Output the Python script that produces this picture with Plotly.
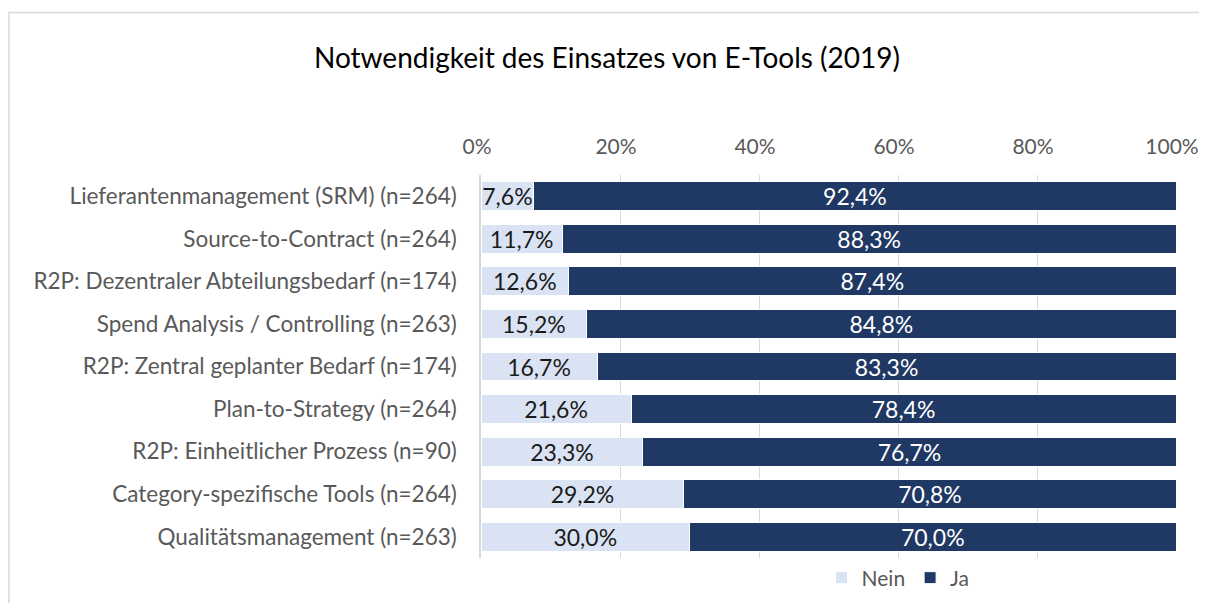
import plotly.graph_objects as go

categories = [
    "Lieferantenmanagement (SRM) (n=264)",
    "Source-to-Contract (n=264)",
    "R2P: Dezentraler Abteilungsbedarf (n=174)",
    "Spend Analysis / Controlling (n=263)",
    "R2P: Zentral geplanter Bedarf (n=174)",
    "Plan-to-Strategy (n=264)",
    "R2P: Einheitlicher Prozess (n=90)",
    "Category-spezifische Tools (n=264)",
    "Qualitätsmanagement (n=263)",
]
nein = [7.6, 11.7, 12.6, 15.2, 16.7, 21.6, 23.3, 29.2, 30.0]
ja = [92.4, 88.3, 87.4, 84.8, 83.3, 78.4, 76.7, 70.8, 70.0]
tick_vals = [0, 20, 40, 60, 80, 100]
tick_text = ["0%", "20%", "40%", "60%", "80%", "100%"]

FONT = "Lato, Calibri, Liberation Sans, sans-serif"

def fmt(v):
    return f"{v:.1f}".replace(".", ",") + "%"

W, H = 1191, 595
L, R, T, B = 473, 23, 167, 45
PW = W - L - R
PH = H - T - B

fig = go.Figure()
fig.add_trace(go.Bar(
    y=categories, x=nein, name="Nein", orientation="h",
    marker=dict(color="#DAE3F3", line=dict(color="white", width=1)),
    text=[fmt(v) for v in nein], textposition="inside", insidetextanchor="middle",
    constraintext="none", textangle=0,
    textfont=dict(color="#1a1a1a", size=23, family=FONT),
    hoverinfo="skip",
))
fig.add_trace(go.Bar(
    y=categories, x=ja, name="Ja", orientation="h",
    marker=dict(color="#203864", line=dict(color="white", width=1)),
    text=[fmt(v) for v in ja], textposition="inside", insidetextanchor="middle",
    constraintext="none", textangle=0,
    textfont=dict(color="white", size=23, family=FONT),
    hoverinfo="skip",
))

fig.update_layout(
    width=W, height=H,
    barmode="stack", bargap=0.32,
    paper_bgcolor="white", plot_bgcolor="white",
    margin=dict(l=L, r=R, t=T, b=B, autoexpand=False),
    font=dict(family=FONT, color="#595959", size=22),
    title=dict(text="Notwendigkeit des Einsatzes von E-Tools (2019)",
               x=599 / W, xref="container", xanchor="center", y=1 - 50 / H, yanchor="middle",
               font=dict(size=28, color="#000000", family=FONT)),
    showlegend=True,
    legend=dict(orientation="h", x=0.49, xanchor="left", y=-20 / PH, yanchor="middle",
                font=dict(size=21, color="#595959"), traceorder="normal",
                itemwidth=30, tracegroupgap=0),
    xaxis=dict(side="top", range=[0, 100], tickvals=tick_vals, ticktext=tick_text,
               showgrid=True, gridcolor="#D9D9D9", gridwidth=1, zeroline=False,
               showline=False, ticks="", ticklabelstandoff=16, ticklabeloverflow="allow",
               ticklabelshift=-4,
               automargin=False, tickfont=dict(size=21, color="#595959")),
    yaxis=dict(autorange="reversed", showgrid=False, showline=True, automargin=False,
               linecolor="#D9D9D9", linewidth=1.5, ticks="", ticklabelstandoff=18,
               tickfont=dict(size=22.5, color="#595959")),
    shapes=[dict(type="rect", xref="paper", yref="paper",
                 x0=(1 - L) / PW, x1=(W + 20 - L) / PW,
                 y0=-(B + 20) / PH, y1=1 + (T - 4.5) / PH,
                 line=dict(color="#D9D9D9", width=1.5), fillcolor="rgba(0,0,0,0)", layer="below")],
)

fig.write_html("out.html")
